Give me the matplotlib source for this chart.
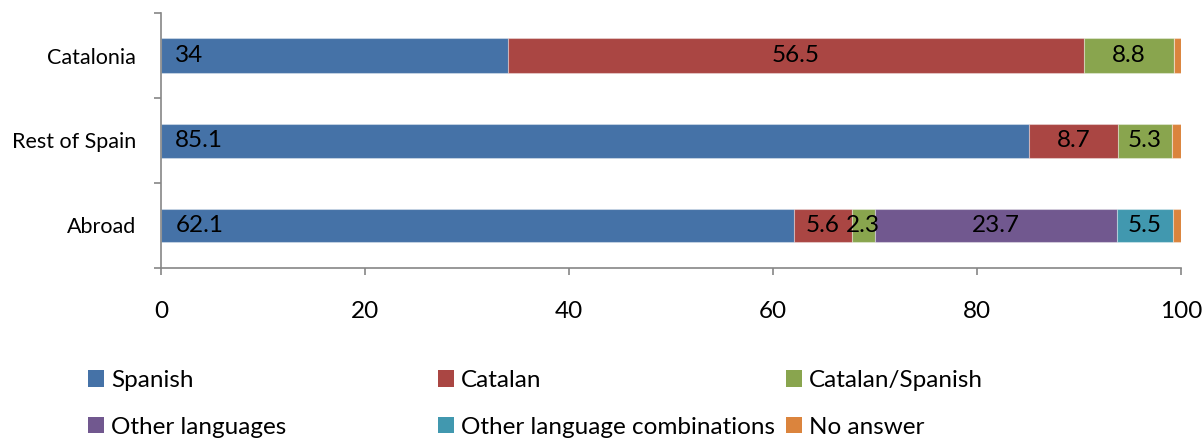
import matplotlib
matplotlib.use("Agg")
import matplotlib.pyplot as plt
from matplotlib.patches import Patch
import numpy as np

plt.rcParams['font.family'] = ['Lato', 'DejaVu Sans']

regions = ["Catalonia", "Rest of Spain", "Abroad"]
series_names = ["Spanish", "Catalan", "Catalan/Spanish", "Other languages",
                "Other language combinations", "No answer"]
spanish = [34.0, 85.1, 62.1]
catalan = [56.5, 8.7, 5.6]
catalan_spanish = [8.8, 5.3, 2.3]
other_languages = [0.0, 0.0, 23.7]
other_combinations = [0.0, 0.0, 5.5]
no_answer = [0.7, 0.9, 0.8]
x_ticks = [0, 20, 40, 60, 80, 100]

colors = ["#4572A7", "#AA4643", "#89A54E", "#71588F", "#4198AF", "#DB843D"]
series = [spanish, catalan, catalan_spanish, other_languages, other_combinations, no_answer]
labelled = [True, True, True, True, True, False]

big = 17.5

fig = plt.figure(figsize=(12.03, 4.38), dpi=100)
ax = fig.add_axes([161 / 1203, 1 - 268 / 438, 1020 / 1203, 255 / 438])

y = np.arange(len(regions))[::-1]  # Catalonia on top
left = np.zeros(len(regions))
for i, (vals, col) in enumerate(zip(series, colors)):
    vals = np.array(vals)
    ax.barh(y, vals, left=left, height=0.4, color=col,
            edgecolor=(1, 1, 1, 0.35), linewidth=0.8, label=series_names[i])
    if labelled[i]:
        for yy, l, v in zip(y, left, vals):
            if v <= 0:
                continue
            txt = f"{v:g}"
            if i == 0:
                ax.text(l + 1.4, yy, txt, ha="left", va="center", fontsize=big)
            else:
                ax.text(l + v / 2, yy, txt, ha="center", va="center", fontsize=big)
    left = left + vals

ax.set_xlim(0, 100)
ax.set_ylim(-0.5, 2.5)
ax.set_xticks(x_ticks)
ax.set_xticklabels([str(t) for t in x_ticks], fontsize=big)
ax.set_yticks(y)
ax.set_yticklabels(regions, fontsize=15.5)
ax.set_yticks([-0.5, 0.5, 1.5, 2.5], minor=True)

for s in ["top", "right"]:
    ax.spines[s].set_visible(False)
for s in ["left", "bottom"]:
    ax.spines[s].set_color("#868686")
    ax.spines[s].set_linewidth(1.2)

ax.tick_params(axis="y", which="major", length=0, pad=18)
ax.tick_params(axis="y", which="minor", length=5, color="#868686", width=1.2)
ax.tick_params(axis="x", which="major", length=5, color="#868686", width=1.2, pad=19)

handles = [Patch(facecolor=c, edgecolor="none") for c in colors]
legend_kw = dict(ncol=1, frameon=False, fontsize=big, handlelength=0.65, handleheight=0.65,
                 handletextpad=0.3, labelspacing=1.05, borderaxespad=0, borderpad=0,
                 loc="upper left")
col_x = [88, 438, 786]
for k in range(3):
    fig.legend([handles[k], handles[k + 3]], [series_names[k], series_names[k + 3]],
               bbox_to_anchor=(col_x[k] / 1203, 1 - 370 / 438), **legend_kw)

fig.savefig("out.png", dpi=100)
